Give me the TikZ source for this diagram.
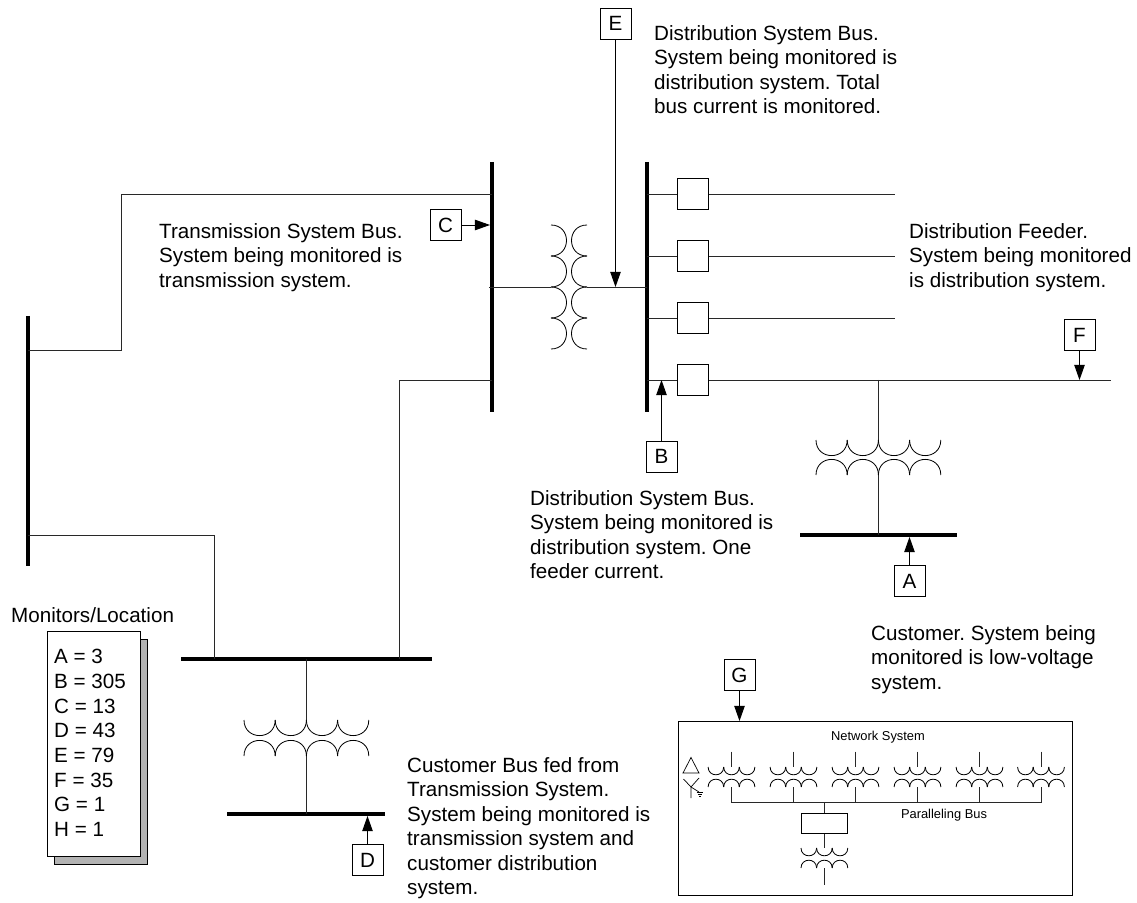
\documentclass[tikz,border=0pt]{standalone}
\usepackage{fontspec}
\setmainfont{Liberation Sans}
\frenchspacing
\usetikzlibrary{arrows.meta, positioning, calc}
\definecolor{myshadow}{RGB}{179,179,179}
\definecolor{mywire}{RGB}{40,40,40}
\tikzset{
  wire/.style={line width=0.75pt, color=mywire},
  coilline/.style={line width=0.7pt, color=black},
  busbar/.style={line width=3.2pt, color=black},
  arrow/.style={-{Triangle[length=13pt,width=9pt]}, line width=0.8pt, color=black},
  tag/.style={rectangle, draw=black, fill=white, line width=0.7pt,
    minimum size=26.4pt, inner sep=0pt, font=\fontsize{17.6}{21}\selectfont},
  breaker/.style={rectangle, draw=black, fill=white, line width=0.7pt,
    minimum size=26.4pt, inner sep=0pt},
  note/.style={anchor=north west, inner sep=0pt, align=left,
    font=\fontsize{17.6}{20.9}\selectfont},
  smalltext/.style={inner sep=0pt, font=\fontsize{11}{13}\selectfont}
}
% row of coils, #1 x, #2 y, #3 count, #4 radius, #5 side (1 or -1)
\newcommand{\coilrow}[5]{
  \foreach \k in {1,...,#3}{
    \pgfmathsetmacro{\xa}{#1+(\k-1)*2*#4}
    \pgfmathsetmacro{\xb}{\xa+2*#4}
    \pgfmathsetmacro{\yc}{#2+#5*1.333*#4}
    \draw[coilline] (\xa,#2) .. controls (\xa,\yc) and (\xb,\yc) .. (\xb,#2);
  }
}
% column of coils, #1 x, #2 y, #3 count, #4 radius, #5 side (1 or -1)
\newcommand{\coilcol}[5]{
  \foreach \k in {1,...,#3}{
    \pgfmathsetmacro{\ya}{#2+(\k-1)*2*#4}
    \pgfmathsetmacro{\yb}{\ya+2*#4}
    \pgfmathsetmacro{\xc}{#1+#5*1.333*#4}
    \draw[coilline] (#1,\ya) .. controls (\xc,\ya) and (\xc,\yb) .. (#1,\yb);
  }
}
\begin{document}
\begin{tikzpicture}[x=0.03cm,y=-0.03cm]
  \useasboundingbox (0,0) rectangle (1137,903);
  % Buses
  \coordinate (linetop) at (28,316);
  \coordinate (linebot) at (28,566);
  \coordinate (txtop) at (492,162);
  \coordinate (txbot) at (492,412);
  \coordinate (dstop) at (647,162);
  \coordinate (dsbot) at (647,412);
  \coordinate (custl) at (181,659);
  \coordinate (custr) at (432,659);
  \coordinate (lowl) at (227,814);
  \coordinate (lowr) at (385,814);
  \coordinate (feedl) at (800,535);
  \coordinate (feedr) at (957,535);
  \draw[busbar] (linetop) -- (linebot);
  \draw[busbar] (txtop) -- (txbot);
  \draw[busbar] (dstop) -- (dsbot);
  \draw[busbar] (custl) -- (custr);
  \draw[busbar] (lowl) -- (lowr);
  \draw[busbar] (feedl) -- (feedr);
  % Transmission lines
  \coordinate (lineA) at (28,350);
  \coordinate (lineB) at (28,535);
  \coordinate (txA) at (492,194);
  \coordinate (txB) at (492,380);
  \coordinate (custA) at (214,659);
  \coordinate (custB) at (399,659);
  \draw[wire] (lineA) -- (121,350) -- (121,194) -- (txA);
  \draw[wire] (lineB) -| (custA);
  \draw[wire] (custB) |- (txB);
  % Main transformer
  \coordinate (txC) at (489,287);
  \coordinate (mainl) at (551,287);
  \coordinate (mainr) at (587,287);
  \coordinate (dsC) at (647,287);
  \draw[wire] (txC) -- (mainl);
  \draw[wire] (mainr) -- (dsC);
  \coilcol{551}{225}{4}{15.5}{1}
  \coilcol{587}{225}{4}{15.5}{-1}
  % Feeders
  \foreach \name/\ypos in {a/194,b/256,c/318,d/380}{
    \coordinate (ds\name) at (647,\ypos);
    \node[breaker] (brk\name) at (693,\ypos) {};
    \draw[wire] (ds\name) -- (brk\name);
  }
  \coordinate (enda) at (895,194);
  \coordinate (endb) at (895,256);
  \coordinate (endc) at (895,318);
  \coordinate (endd) at (1111,380);
  \foreach \name in {a,b,c,d}
    \draw[wire] (brk\name) -- (end\name);
  % Feeder transformer
  \coordinate (tapA) at (878,380);
  \coordinate (tapB) at (878,440);
  \coordinate (tapC) at (878,475);
  \coordinate (tapD) at (878,535);
  \draw[wire] (tapA) -- (tapB);
  \draw[wire] (tapC) -- (tapD);
  \coilrow{816}{440}{4}{15.6}{1}
  \coilrow{816}{475}{4}{15.6}{-1}
  % Customer transformer
  \coordinate (lowA) at (306,659);
  \coordinate (lowB) at (306,720);
  \coordinate (lowC) at (306,756);
  \coordinate (lowD) at (306,814);
  \draw[wire] (lowA) -- (lowB);
  \draw[wire] (lowC) -- (lowD);
  \coilrow{244}{720}{4}{15.6}{1}
  \coilrow{244}{756}{4}{15.6}{-1}
  % Monitor tags
  \node[tag] (tagA) at (909.5,581) {A};
  \node[tag] (tagB) at (661.5,456.5) {B};
  \node[tag] (tagC) at (445.5,225) {C};
  \node[tag] (tagD) at (367.5,860) {D};
  \node[tag] (tagE) at (615.5,23.5) {E};
  \node[tag] (tagF) at (1079.5,335) {F};
  \node[tag] (tagG) at (739.5,675) {G};
  \coordinate (hitA) at (909.5,537);
  \coordinate (hitB) at (661.5,380);
  \coordinate (hitC) at (490,225);
  \coordinate (hitD) at (367.5,816);
  \coordinate (hitE) at (615.5,287);
  \coordinate (hitF) at (1079.5,380);
  \coordinate (hitG) at (739.5,721);
  \foreach \name in {A,B,C,D,E,F,G}
    \draw[arrow] (tag\name) -- (hit\name);
  % Notes
  \node[note] (noteE) at (654,25) {Distribution System Bus.\\System being monitored is\\distribution system. Total\\bus current is monitored.};
  \node[note] (noteC) at (159,223) {Transmission System Bus.\\System being monitored is\\transmission system.};
  \node[note] (noteF) at (909,223) {Distribution Feeder.\\System being monitored\\is distribution system.};
  \node[note] (noteB) at (530,490) {Distribution System Bus.\\System being monitored is\\distribution system. One\\feeder current.};
  \node[note] (noteA) at (871,625) {Customer. System being\\monitored is low-voltage\\system.};
  \node[note] (noteD) at (407,757) {Customer Bus fed from\\Transmission System.\\System being monitored is\\transmission system and\\customer distribution\\system.};
  % Monitor list
  \node[note] (montitle) at (11,607) {Monitors/Location};
  \draw[line width=0.7pt, fill=myshadow] (54,639) rectangle (147,864);
  \draw[line width=0.7pt, fill=white] (47,631) rectangle (140,856);
  \node[note, font=\fontsize{17.6}{21.1}\selectfont] (monlist) at (54,649) {A = 3\\B = 305\\C = 13\\D = 43\\E = 79\\F = 35\\G = 1\\H = 1};
  % Network system
  \draw[line width=0.7pt] (678,721) rectangle (1072,895);
  \node[smalltext] (nettext) at (878,737.5) {Network System};
  \node[smalltext] (bustext) at (944,815) {Paralleling Bus};
  \coordinate (parl) at (731.5,802.5);
  \coordinate (parr) at (1041,802.5);
  \draw[wire] (parl) -- (parr);
  \foreach \xpos in {731.5,793.5,855.5,917.5,979.5,1041}{
    \coordinate (top) at (\xpos,751.5);
    \coordinate (mid) at (\xpos,767);
    \coordinate (low) at (\xpos,787);
    \coordinate (par) at (\xpos,802.5);
    \draw[wire] (top) -- (mid);
    \draw[wire] (low) -- (par);
    \coilrow{\xpos-23.4}{767}{3}{7.8}{1}
    \coilrow{\xpos-23.4}{787}{3}{7.8}{-1}
  }
  % Paralleling reactor
  \node[draw=black, line width=0.7pt, minimum width=40pt, minimum height=17pt, inner sep=0pt] (reactor) at (824.4,823.3) {};
  \coordinate (parm) at (824.4,802.5);
  \coordinate (rtop) at (824.4,848);
  \coordinate (rlow) at (824.4,868);
  \coordinate (rend) at (824.4,885);
  \draw[wire] (parm) -- (reactor);
  \draw[wire] (reactor) -- (rtop);
  \draw[wire] (rlow) -- (rend);
  \coilrow{801}{848}{3}{7.8}{1}
  \coilrow{801}{868}{3}{7.8}{-1}
  % Delta and wye
  \draw[line width=0.6pt] (691,757.5) -- (683,773) -- (699,773) -- cycle;
  \draw[line width=0.6pt] (683.5,779) -- (691,787) -- (699,792);
  \draw[line width=0.6pt] (699,778) -- (691,787) -- (691,798);
  \draw[line width=0.6pt] (696.7,792) -- (703.3,792);
  \draw[line width=0.6pt] (697.7,794.4) -- (702.3,794.4);
  \draw[line width=0.6pt] (699,796.8) -- (701,796.8);
\end{tikzpicture}
\end{document}
